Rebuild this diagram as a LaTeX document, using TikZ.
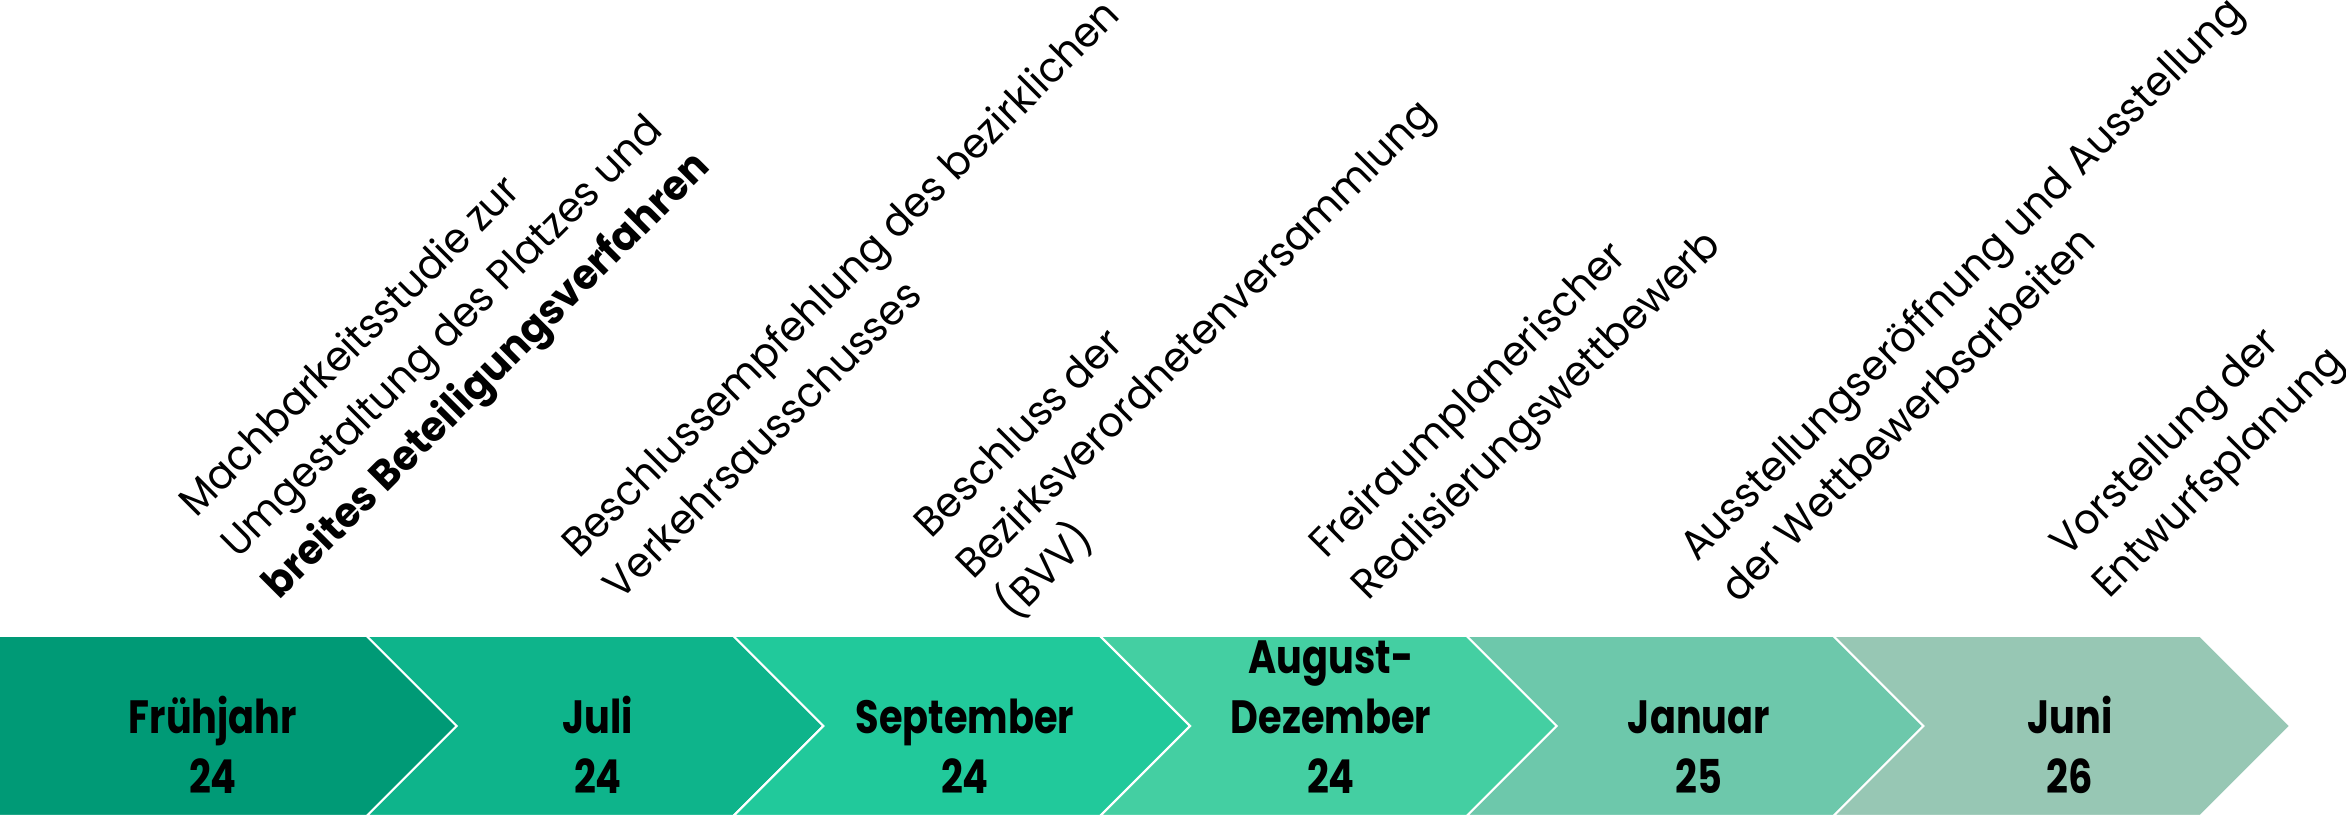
\documentclass[tikz,border=0pt]{standalone}
\usepackage{fontspec}
\newfontfamily\toplbl{Poppins}[FakeStretch=0.955]
\newfontfamily\botlbl{Poppins}[FakeStretch=0.82]
\definecolor{cA}{HTML}{009A76}
\definecolor{cB}{HTML}{0EB48B}
\definecolor{cC}{HTML}{21C99B}
\definecolor{cD}{HTML}{44CFA2}
\definecolor{cE}{HTML}{6DC8AB}
\definecolor{cF}{HTML}{97C7B4}
\begin{document}
\begin{tikzpicture}[x=0.3pt,y=0.3pt,
  chev/.style={draw=white,line width=0.6pt,line join=miter},
  rot/.style={rotate=45,anchor=base west,inner sep=0pt,outer sep=0pt,font=\toplbl\fontsize{12.5}{15}\selectfont},
  rotb/.style={rot,font=\toplbl\bfseries\fontsize{12.5}{15}\selectfont},
  mon/.style={anchor=base,inner sep=0pt,font=\botlbl\bfseries\fontsize{14}{17}\selectfont}]
\useasboundingbox (0,0) rectangle (2346,821);
% chevrons
\fill[cA] (0,185) -- (366.7,185) -- (456.7,95) -- (366.7,5) -- (0,5) -- cycle;
\draw[chev] (0,185) -- (366.7,185) -- (456.7,95) -- (366.7,5) -- (0,5);
\foreach \i/\c in {1/cB,2/cC,3/cD,4/cE,5/cF}{
  \path[chev,fill=\c] ({\i*366.7},185) -- ({(\i+1)*366.7},185) -- ({(\i+1)*366.7+90},95) -- ({(\i+1)*366.7},5) -- ({\i*366.7},5) -- ({\i*366.7+90},95) -- cycle;
}
% month labels
\node[mon] (m1a) at (213,87.7) {Frühjahr};
\node[mon] (m1b) at (213,27.7) {24};
\node[mon] (m2a) at (598,87.7) {Juli};
\node[mon] (m2b) at (598,27.7) {24};
\node[mon] (m3a) at (965,87.7) {September};
\node[mon] (m3b) at (965,27.7) {24};
\node[mon] (m4a) at (1331,147.7) {August-};
\node[mon] (m4b) at (1331,87.7) {Dezember};
\node[mon] (m4c) at (1331,27.7) {24};
\node[mon] (m5a) at (1699,87.7) {Januar};
\node[mon] (m5b) at (1699,27.7) {25};
\node[mon] (m6a) at (2070,87.7) {Juni};
\node[mon] (m6b) at (2070,27.7) {26};
% rotated descriptions
\node[rot]  (t1a) at (196.7,302.7) {Machbarkeitsstudie zur};
\node[rot]  (t1b) at (238.0,261.4) {Umgestaltung des Platzes und};
\node[rotb] (t1c) at (279.3,220.1) {breites Beteiligungsverfahren};
\node[rot]  (t2a) at (579.3,261.0) {Beschlussempfehlung des bezirklichen};
\node[rot]  (t2b) at (620.6,219.7) {Verkehrsausschusses};
\node[rot]  (t3a) at (931.7,281.7) {Beschluss der};
\node[rot]  (t3b) at (973.0,240.4) {Bezirksverordnetenversammlung};
\node[rot]  (t3c) at (1014.3,199.1) {(BVV)};
\node[rot]  (t4a) at (1326.7,261.0) {Freiraumplanerischer};
\node[rot]  (t4b) at (1368.0,219.7) {Realisierungswettbewerb};
\node[rot]  (t5a) at (1697.0,258.0) {Ausstellungseröffnung und Ausstellung};
\node[rot]  (t5b) at (1738.3,216.7) {der Wettbewerbsarbeiten};
\node[rot]  (t6a) at (2067.7,262.3) {Vorstellung der};
\node[rot]  (t6b) at (2109.0,221.0) {Entwurfsplanung};
\end{tikzpicture}
\end{document}
